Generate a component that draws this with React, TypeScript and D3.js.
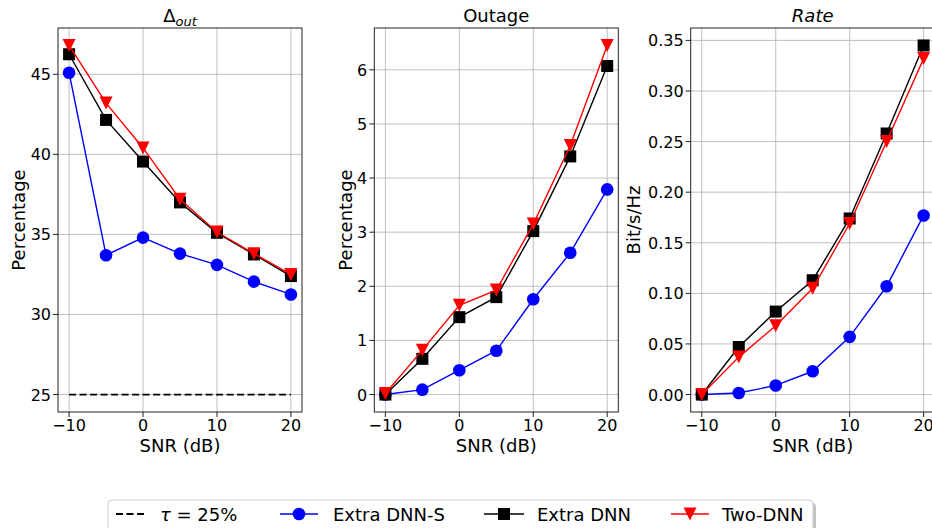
import React from 'react';
import * as d3 from 'd3';

const snr = [-10, -5, 0, 5, 10, 15, 20];
const deltaExtraS = [45.1, 33.7, 34.8, 33.8, 33.1, 32.05, 31.25];
const deltaExtra = [46.25, 42.15, 39.55, 37.0, 35.1, 33.75, 32.4];
const deltaTwo = [46.8, 43.2, 40.4, 37.2, 35.15, 33.8, 32.5];
const tauValue = 25;
const outExtraS = [0, 0.09, 0.45, 0.81, 1.76, 2.62, 3.79];
const outExtra = [0, 0.66, 1.43, 1.8, 3.02, 4.4, 6.07];
const outTwo = [0.02, 0.82, 1.65, 1.93, 3.15, 4.6, 6.45];
const rateExtraS = [0, 0.0015, 0.009, 0.023, 0.057, 0.107, 0.177];
const rateExtra = [0, 0.047, 0.082, 0.113, 0.174, 0.258, 0.345];
const rateTwo = [0, 0.037, 0.068, 0.105, 0.169, 0.25, 0.332];
const xTicks = [-10, 0, 10, 20];
const deltaTicks = [25, 30, 35, 40, 45];
const outTicks = [0, 1, 2, 3, 4, 5, 6];
const rateTicks = [0, 0.05, 0.1, 0.15, 0.2, 0.25, 0.3, 0.35];
const seriesNames = ['Extra DNN-S', 'Extra DNN', 'Two-DNN'];
const seriesColors = ['#0000ff', '#000000', '#ff0000'];
const seriesMarkers = ['circle', 'square', 'triangle'];

const FONT = 'DejaVu Sans, sans-serif';
const TOP = 28;
const BOTTOM = 412;
const PW = 244;
const TICK_FS = 16;
const LABEL_FS = 18;
const fmtNum = (v: number, d: number) => (v < 0 ? '\u2212' : '') + Math.abs(v).toFixed(d);

function Marker({ type, x, y, color }: { type: string; x: number; y: number; color: string }) {
  if (type === 'circle') return <circle cx={x} cy={y} r={6.3} fill={color} />;
  if (type === 'square') return <rect x={x - 6} y={y - 6} width={12} height={12} fill={color} />;
  const s = 6.5;
  return <path d={`M${x - s},${y - s}L${x + s},${y - s}L${x},${y + s}Z`} fill={color} />;
}

function Panel({ left, title, ylabel, ylabelX, yTicks, decimals, data, tau }: any) {
  const x = d3.scaleLinear().domain([-11.5, 21.5]).range([left, left + PW]);
  const all = data.flat().concat(tau != null ? [tau] : []);
  const [mn, mx] = d3.extent(all) as [number, number];
  const pad = (mx - mn) * 0.05;
  const y = d3.scaleLinear().domain([mn - pad, mx + pad]).range([BOTTOM, TOP]);
  const line = d3.line<number>().x((_, i) => x(snr[i])).y((d) => y(d));
  const cx = left + PW / 2;
  return (
    <g>
      {xTicks.map((t) => (
        <line key={'gx' + t} x1={x(t)} x2={x(t)} y1={TOP} y2={BOTTOM} stroke="#b0b0b0" strokeWidth={0.8} />
      ))}
      {yTicks.map((t: number) => (
        <line key={'gy' + t} x1={left} x2={left + PW} y1={y(t)} y2={y(t)} stroke="#b0b0b0" strokeWidth={0.8} />
      ))}
      {tau != null && (
        <line x1={x(snr[0])} x2={x(snr[snr.length - 1])} y1={y(tau)} y2={y(tau)} stroke="#000" strokeWidth={1.8} strokeDasharray="7,3.5" />
      )}
      {data.map((vals: number[], k: number) => (
        <g key={k}>
          <path d={line(vals) || ''} fill="none" stroke={seriesColors[k]} strokeWidth={1.4} />
          {vals.map((v, i) => (
            <Marker key={i} type={seriesMarkers[k]} x={x(snr[i])} y={y(v)} color={seriesColors[k]} />
          ))}
        </g>
      ))}
      <rect x={left} y={TOP} width={PW} height={BOTTOM - TOP} fill="none" stroke="#222" strokeWidth={1} />
      {xTicks.map((t) => (
        <g key={'xt' + t}>
          <line x1={x(t)} x2={x(t)} y1={BOTTOM} y2={BOTTOM + 5} stroke="#222" strokeWidth={1} />
          <text x={x(t)} y={BOTTOM + 19} textAnchor="middle" fontSize={TICK_FS} fontFamily={FONT}>{fmtNum(t, 0)}</text>
        </g>
      ))}
      {yTicks.map((t: number) => (
        <g key={'yt' + t}>
          <line x1={left - 5} x2={left} y1={y(t)} y2={y(t)} stroke="#222" strokeWidth={1} />
          <text x={left - 7} y={y(t) + 6} textAnchor="end" fontSize={TICK_FS} fontFamily={FONT}>{fmtNum(t, decimals)}</text>
        </g>
      ))}
      <text x={cx} y={22} textAnchor="middle" fontSize={LABEL_FS} fontFamily={FONT}>{title}</text>
      <text x={cx} y={452} textAnchor="middle" fontSize={LABEL_FS} fontFamily={FONT}>SNR (dB)</text>
      <text transform={`translate(${ylabelX},${(TOP + BOTTOM) / 2}) rotate(-90)`} textAnchor="middle" fontSize={LABEL_FS} fontFamily={FONT}>{ylabel}</text>
    </g>
  );
}

export default function App() {
  const legendY = 514;
  const items = [
    { x1: 116, x2: 146, tx: 160 },
    { x1: 280, x2: 318, tx: 333 },
    { x1: 484, x2: 524, tx: 537 },
    { x1: 671, x2: 709, tx: 722 },
  ];
  return (
    <svg width={932} height={528} style={{ position: 'absolute', left: 0, top: 0, background: '#fff' }}>
      <rect width={932} height={528} fill="#fff" />
      <Panel
        left={58}
        title={<><tspan>Δ</tspan><tspan fontStyle="italic" fontSize={13} dy={4}>out</tspan></>}
        ylabel="Percentage"
        ylabelX={25}
        yTicks={deltaTicks}
        decimals={0}
        data={[deltaExtraS, deltaExtra, deltaTwo]}
        tau={tauValue}
      />
      <Panel
        left={374.3}
        title="Outage"
        ylabel="Percentage"
        ylabelX={352}
        yTicks={outTicks}
        decimals={0}
        data={[outExtraS, outExtra, outTwo]}
        tau={null}
      />
      <Panel
        left={690.7}
        title={<tspan fontStyle="italic">Rate</tspan>}
        ylabel="Bit/s/Hz"
        ylabelX={640}
        yTicks={rateTicks}
        decimals={2}
        data={[rateExtraS, rateExtra, rateTwo]}
        tau={null}
      />
      <rect x={111} y={503} width={705} height={40} rx={4} fill="#888" opacity={0.5} />
      <rect x={108} y={500} width={705} height={40} rx={4} fill="#fff" stroke="#ccc" strokeWidth={1} />
      <line x1={items[0].x1} x2={items[0].x2} y1={legendY} y2={legendY} stroke="#000" strokeWidth={1.8} strokeDasharray="7,3.5" />
      <text x={items[0].tx} y={legendY + 6.5} fontSize={LABEL_FS} fontFamily={FONT}>
        <tspan fontStyle="italic">τ</tspan> = 25%
      </text>
      {seriesNames.map((n, k) => {
        const it = items[k + 1];
        return (
          <g key={n}>
            <line x1={it.x1} x2={it.x2} y1={legendY} y2={legendY} stroke={seriesColors[k]} strokeWidth={1.4} />
            <Marker type={seriesMarkers[k]} x={(it.x1 + it.x2) / 2} y={legendY} color={seriesColors[k]} />
            <text x={it.tx} y={legendY + 6.5} fontSize={LABEL_FS} fontFamily={FONT}>{n}</text>
          </g>
        );
      })}
    </svg>
  );
}
